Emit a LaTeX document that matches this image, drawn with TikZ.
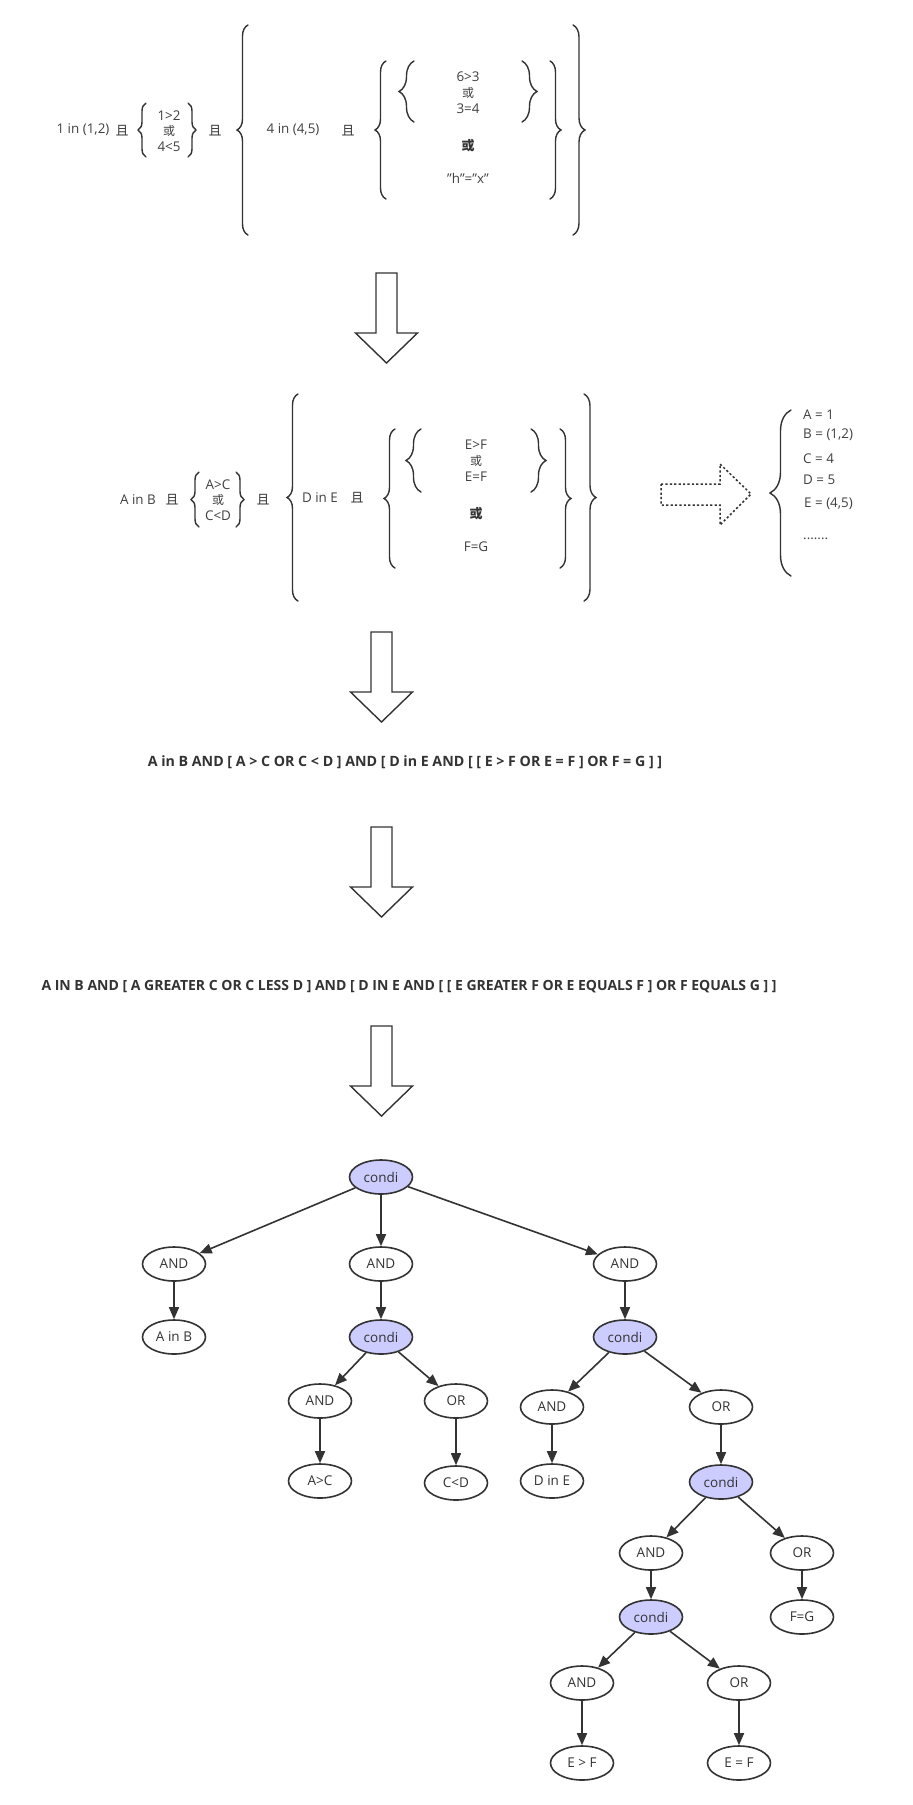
\documentclass[tikz,border=0pt]{standalone}
\usepackage{fontspec}
\setmainfont{Open Sans}
\newfontfamily\cjk{Noto Sans CJK SC}
\usetikzlibrary{arrows.meta,decorations.pathreplacing,shapes.geometric}
\definecolor{ink}{HTML}{333333}
\definecolor{txt}{HTML}{404040}
\definecolor{condifill}{HTML}{CCCCFF}
\tikzset{
  lbl/.style={inner sep=0pt, text=txt, font=\fontsize{13.4}{15}\selectfont, align=center},
  qie/.style={inner sep=0pt, text=ink, font=\cjk\fontsize{13}{15}\selectfont},
  huo/.style={inner sep=0pt, text=txt, font=\cjk\fontsize{12}{14}\selectfont},
  huob/.style={inner sep=0pt, text=ink, font=\cjk\bfseries\fontsize{13}{15}\selectfont},
  bline/.style={inner sep=0pt, text=ink, font=\bfseries\fontsize{14.2}{16}\selectfont},
  blinesm/.style={bline, font=\bfseries\fontsize{14}{16}\selectfont},
  curly/.style={draw=ink, line width=1.4pt, decorate, line cap=round},
  blockarrow/.style={draw=ink, line width=1.4pt, fill=white, line join=miter},
  dotarrow/.style={draw=ink, line width=1.5pt, dash pattern=on 2.2pt off 2.2pt},
  tn/.style={ellipse, draw=ink, line width=1.6pt, fill=white, minimum width=63pt,
    minimum height=34pt, inner sep=0pt, text=ink, font=\fontsize{13.5}{15}\selectfont},
  cn/.style={tn, fill=condifill},
  edge/.style={draw=ink, line width=1.6pt, -{Triangle[length=12pt,width=10pt]}},
}
% left brace "{": #1 x of the ends, #2 top, #3 bottom, #4 width
\newcommand\lcurl[4]{\draw[curly, decoration={brace, amplitude=#4}] (#1,#3) -- (#1,#2);}
% right brace "}": #1 x of the ends, #2 top, #3 bottom, #4 width
\newcommand\rcurl[4]{\draw[curly, decoration={brace, amplitude=#4}] (#1,#2) -- (#1,#3);}
% hollow down arrow: centre x, top y
\newcommand\downblock[2]{\draw[blockarrow] (#1-10.5,#2) -- (#1+10.5,#2) -- (#1+10.5,#2+60)
  -- (#1+31,#2+60) -- (#1,#2+90) -- (#1-31,#2+60) -- (#1-10.5,#2+60) -- cycle;}
\newcommand\dq{\symbol{34}}
\begin{document}
\begin{tikzpicture}[x=1pt, y=-1pt]
\useasboundingbox[fill=white] (0,0) rectangle (913,1805);

% ---------- concrete condition ----------
\node[lbl] (t1) at (83,130) {1 in (1,2)};
\node[qie] (q1) at (122,131) {且};
\lcurl{146}{103}{157}{8}
\node[lbl] (t2) at (169,116) {1>2};
\node[huo] (t3) at (169,131) {或};
\node[lbl] (t4) at (169,147) {4<5};
\rcurl{188}{103}{157}{8}
\node[qie] (q2) at (215,131) {且};
\lcurl{248}{25}{235}{11}
\node[lbl] (t5) at (293,130) {4 in (4,5)};
\node[qie] (q3) at (348,131) {且};
\lcurl{386}{61}{199}{11}
\lcurl{414}{61}{122}{15}
\node[lbl] (t6) at (468,77) {6>3};
\node[huo] (t7) at (468,93) {或};
\node[lbl] (t8) at (468,109) {3=4};
\rcurl{522}{61}{122}{15}
\node[huob] (t9) at (468,146) {或};
\node[lbl] (t10) at (468,178) {\dq h\dq=\dq x\dq};
\rcurl{550}{61}{199}{11}
\rcurl{573}{25}{235}{12}

\downblock{386.5}{273}

% ---------- abstract condition ----------
\node[lbl] (u1) at (138,500) {A in B};
\node[qie] (p1) at (172,500) {且};
\lcurl{199}{472}{527}{8}
\node[lbl] (u2) at (218,485) {A>C};
\node[huo] (u3) at (218,500) {或};
\node[lbl] (u4) at (218,516) {C<D};
\rcurl{236}{472}{527}{8}
\node[qie] (p2) at (263,500) {且};
\lcurl{298}{394}{601}{11}
\node[lbl] (u5) at (320,498) {D in E};
\node[qie] (p3) at (357,498) {且};
\lcurl{395}{429}{568}{11}
\lcurl{421}{429}{492}{15}
\node[lbl] (u6) at (476,445) {E>F};
\node[huo] (u7) at (476,461) {或};
\node[lbl] (u8) at (476,477) {E=F};
\rcurl{531}{429}{492}{15}
\node[huob] (u9) at (476,514) {或};
\node[lbl] (u10) at (476,547) {F=G};
\rcurl{560}{429}{568}{11}
\rcurl{584}{394}{601}{12}

% dotted arrow to the variable table
\draw[dotarrow] (661,484) -- (720,484) -- (720,464) -- (751,494) -- (720,525) -- (720,505) -- (661,505) -- cycle;
\lcurl{791}{410}{576}{21}
\node[lbl, anchor=west] (v1) at (803,415) {A = 1};
\node[lbl, anchor=west] (v2) at (803,435) {B = (1,2)};
\node[lbl, anchor=west] (v3) at (803,459) {C = 4};
\node[lbl, anchor=west] (v4) at (803,480) {D = 5};
\node[lbl, anchor=west] (v5) at (804,504) {E = (4,5)};
\node[lbl, anchor=west] (v6) at (803,539) {.......};

\downblock{381.5}{632}
\node[bline] (s1) at (405,762) {A in B AND [ A > C OR C < D ] AND [ D in E AND [ [ E > F OR E = F ] OR F = G ] ]};
\downblock{381.5}{827}
\node[blinesm] (s2) at (409,987) {A IN B AND [ A GREATER C OR C LESS D ] AND [ D IN E AND [ [ E GREATER F OR E EQUALS F ] OR F EQUALS G ] ]};
\downblock{381.5}{1026}

% ---------- condition tree ----------
\node[cn] (r)   at (381,1177) {condi};
\node[tn] (a1)  at (174,1264) {AND};
\node[tn] (a2)  at (381,1264) {AND};
\node[tn] (a3)  at (625,1264) {AND};
\node[tn] (l1)  at (174,1337) {A in B};
\node[cn] (c2)  at (381,1337) {condi};
\node[cn] (c3)  at (625,1337) {condi};
\node[tn] (a4)  at (320,1401) {AND};
\node[tn] (o1)  at (456,1401) {OR};
\node[tn] (l2)  at (320,1481) {A>C};
\node[tn] (l3)  at (456,1483) {C<D};
\node[tn] (a5)  at (552,1407) {AND};
\node[tn] (o2)  at (721,1407) {OR};
\node[tn] (l4)  at (552,1481) {D in E};
\node[cn] (c4)  at (721,1482) {condi};
\node[tn] (a6)  at (651,1553) {AND};
\node[tn] (o3)  at (802,1553) {OR};
\node[cn] (c5)  at (651,1617) {condi};
\node[tn] (l5)  at (802,1617) {F=G};
\node[tn] (a7)  at (582,1683) {AND};
\node[tn] (o4)  at (739,1683) {OR};
\node[tn] (l6)  at (582,1763) {E > F};
\node[tn] (l7)  at (739,1763) {E = F};

\draw[edge] (r) -- (a1);
\draw[edge] (r) -- (a2);
\draw[edge] (r) -- (a3);
\draw[edge] (a1) -- (l1);
\draw[edge] (a2) -- (c2);
\draw[edge] (a3) -- (c3);
\draw[edge] (c2) -- (a4);
\draw[edge] (c2) -- (o1);
\draw[edge] (a4) -- (l2);
\draw[edge] (o1) -- (l3);
\draw[edge] (c3) -- (a5);
\draw[edge] (c3) -- (o2);
\draw[edge] (a5) -- (l4);
\draw[edge] (o2) -- (c4);
\draw[edge] (c4) -- (a6);
\draw[edge] (c4) -- (o3);
\draw[edge] (a6) -- (c5);
\draw[edge] (o3) -- (l5);
\draw[edge] (c5) -- (a7);
\draw[edge] (c5) -- (o4);
\draw[edge] (a7) -- (l6);
\draw[edge] (o4) -- (l7);
\end{tikzpicture}
\end{document}
